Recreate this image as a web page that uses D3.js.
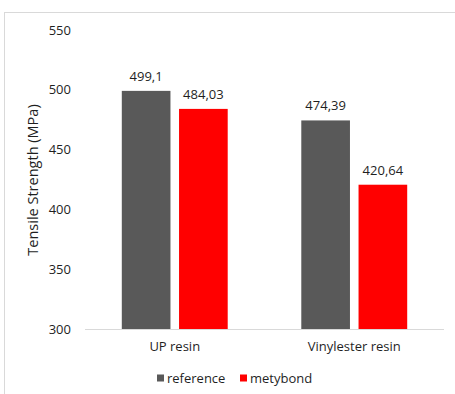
<!DOCTYPE html>
<html><head><meta charset="utf-8">
<script src="https://cdn.jsdelivr.net/npm/d3@7"></script>
<style>body{margin:0;background:#fff}text{font-family:"Open Sans",sans-serif;fill:#1f1f1f}</style>
</head><body>
<svg id="c" width="455" height="394"></svg>
<script>
const categories = ["UP resin", "Vinylester resin"];
const seriesNames = ["reference", "metybond"];
const referenceValues = [499.1, 474.39];
const metybondValues = [484.03, 420.64];
const valueLabels = [["499,1", "484,03"], ["474,39", "420,64"]];
const yTicks = [300, 350, 400, 450, 500, 550];
const colors = ["#595959", "#ff0000"];
const yTitle = "Tensile Strength (MPa)";

(function () {
const svg = d3.select("#c");
svg.append("rect").attr("x", 4.5).attr("y", 12.5).attr("width", 470).attr("height", 400)
  .attr("fill", "none").attr("stroke", "#d9d9d9");

const mLeft = 85, mRight = 444, mTop = 30, mBottom = 329;
const y = d3.scaleLinear().domain([300, 550]).range([mBottom, mTop]);
const x0 = d3.scaleBand().domain(categories).range([mLeft, mRight]).paddingInner(0.41).paddingOuter(0.205);
const x1 = d3.scaleBand().domain(seriesNames).range([0, x0.bandwidth()]).paddingInner(0.15);

const data = categories.map((c, i) => ({c, vals: [referenceValues[i], metybondValues[i]], labels: valueLabels[i]}));

svg.append("g").selectAll("text").data(yTicks).join("text")
  .attr("x", 71).attr("y", d => y(d)).attr("dy", "0.35em").attr("text-anchor", "end")
  .attr("font-size", 13).text(d => d);

svg.append("line").attr("x1", mLeft).attr("x2", mRight).attr("y1", mBottom + 0.5).attr("y2", mBottom + 0.5)
  .attr("stroke", "#d9d9d9").attr("stroke-width", 1);

const g = svg.append("g").selectAll("g").data(data).join("g")
  .attr("transform", d => `translate(${x0(d.c)},0)`);
g.selectAll("rect").data(d => d.vals.map((v, j) => ({v, s: seriesNames[j], j}))).join("rect")
  .attr("x", d => x1(d.s)).attr("width", x1.bandwidth())
  .attr("y", d => y(d.v)).attr("height", d => y(300) - y(d.v))
  .attr("fill", d => colors[d.j]);
g.selectAll("text.v").data(d => d.vals.map((v, j) => ({v, s: seriesNames[j], l: d.labels[j]}))).join("text")
  .attr("class", "v")
  .attr("x", d => x1(d.s) + x1.bandwidth() / 2).attr("y", d => y(d.v) - 10)
  .attr("text-anchor", "middle").attr("font-size", 13).text(d => d.l);

svg.append("g").selectAll("text").data(categories).join("text")
  .attr("x", d => x0(d) + x0.bandwidth() / 2).attr("y", 351)
  .attr("text-anchor", "middle").attr("font-size", 13).text(d => d);

svg.append("text").attr("transform", "translate(38,180) rotate(-90)")
  .attr("text-anchor", "middle").attr("font-size", 14.5).text(yTitle);

const legendX = [157, 240];
const lg = svg.append("g").selectAll("g").data(seriesNames).join("g")
  .attr("transform", (d, i) => `translate(${legendX[i]},378)`);
lg.append("rect").attr("x", 0).attr("y", -3.5).attr("width", 7).attr("height", 7).attr("fill", (d, i) => colors[i]);
lg.append("text").attr("x", 10).attr("dy", "0.35em").attr("font-size", 13).text(d => d);
})();
</script>
</body></html>
